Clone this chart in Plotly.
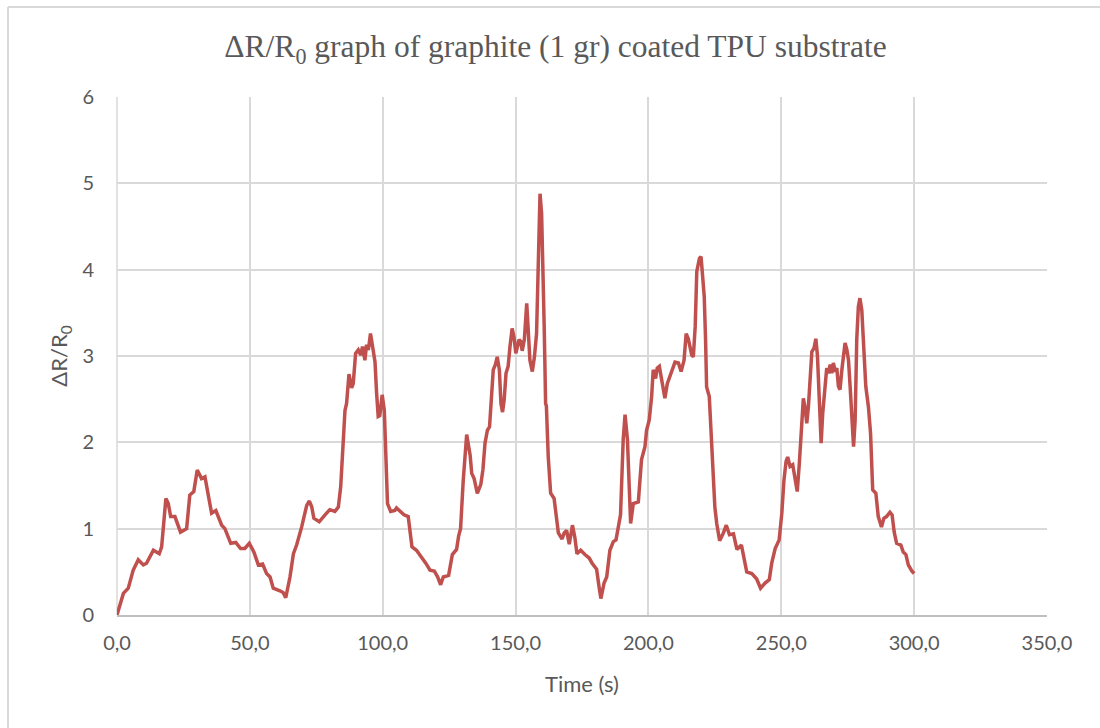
import plotly.graph_objects as go

# Time axis (s) and relative resistance change ΔR/R0
time_s = [
    0.0, 2.4, 4.25, 6.1, 8.0, 9.9, 11.1, 13.7, 15.9, 16.8, 18.4, 19.3, 20.2, 21.8, 23.9,
    26.2, 27.4, 28.9, 30.2, 31.8, 33.1, 34.3, 35.6, 37.2, 39.4, 40.6, 42.8, 44.7, 46.5,
    48.1, 49.8, 51.5, 53.2, 54.8, 56.3, 57.6, 58.8, 61.3, 62.5, 63.5, 65.1, 66.4, 67.6,
    69.5, 71.4, 72.4, 73.3, 74.1, 76.1, 78.3, 80.1, 82.0, 83.3, 84.2, 84.9, 85.8, 86.4,
    87.3, 88.3, 88.9, 89.8, 90.8, 91.7, 92.4, 93.3, 93.9, 94.6, 95.4, 96.4, 97.1, 97.7,
    98.3, 98.9, 99.8, 100.6, 101.2, 101.8, 103.0, 104.6, 105.2, 106.5, 108.0, 109.6,
    110.2, 111.0, 112.7, 114.5, 116.2, 117.8, 119.4, 120.7, 121.8, 122.8, 124.8, 126.2,
    127.8, 128.6, 129.3, 130.3, 131.6, 132.9, 133.5, 134.4, 135.6, 136.9, 137.7, 138.5,
    139.4, 140.2, 141.0, 141.6, 142.4, 143.1, 143.9, 144.5, 145.1, 145.7, 146.4, 147.2,
    147.9, 148.7, 149.4, 150.1, 151.3, 151.9, 152.5, 153.3, 154.2, 154.8, 155.4, 156.3,
    157.1, 157.9, 158.5, 159.2, 159.8, 160.4, 160.8, 161.3, 161.6, 162.3, 163.2, 164.5,
    165.2, 166.1, 167.5, 168.3, 169.2, 170.2, 171.4, 172.3, 173.1, 174.5, 176.1, 177.7,
    178.8, 180.5, 181.4, 182.1, 183.3, 184.3, 185.5, 186.8, 187.8, 188.6, 189.5, 190.5,
    191.2, 192.1, 192.7, 193.3, 194.3, 196.2, 197.4, 198.7, 199.3, 200.3, 201.2, 201.8,
    202.7, 203.3, 204.1, 205.0, 206.2, 207.1, 208.5, 210.0, 211.3, 212.3, 213.4, 214.2,
    215.0, 216.3, 216.9, 217.6, 218.2, 219.2, 219.8, 220.4, 221.0, 221.5, 221.9, 222.9,
    223.8, 225.0, 225.7, 226.8, 228.2, 229.3, 230.5, 232.0, 233.3, 235.0, 237.0, 238.9,
    240.7, 242.2, 243.9, 245.5, 246.4, 247.7, 249.2, 250.2, 251.0, 251.8, 252.4, 253.3,
    254.3, 255.2, 256.0, 256.8, 257.7, 258.3, 258.9, 259.6, 260.2, 260.8, 261.5, 262.3,
    263.0, 263.6, 264.2, 265.0, 265.6, 266.5, 267.1, 267.7, 268.4, 269.0, 269.6, 270.3,
    270.9, 271.5, 272.1, 272.8, 273.4, 274.0, 274.7, 275.3, 275.9, 276.5, 277.2, 277.8,
    278.4, 279.0, 279.6, 280.3, 281.1, 281.8, 282.8, 283.6, 284.4, 285.6, 286.5, 287.7,
    288.6, 289.6, 290.9, 291.7, 292.5, 293.4, 295.0, 295.9, 296.9, 297.8, 299.1, 300.0,
]
delta_r = [
    0.0, 0.25, 0.31, 0.52, 0.64, 0.58, 0.6, 0.75, 0.71, 0.79, 1.35, 1.29, 1.14, 1.14, 0.96,
    1.0, 1.39, 1.43, 1.68, 1.58, 1.6, 1.37, 1.18, 1.21, 1.04, 1.0, 0.83, 0.84, 0.77,
    0.77, 0.83, 0.73, 0.58, 0.59, 0.48, 0.44, 0.31, 0.28, 0.26, 0.2, 0.44, 0.71, 0.81,
    1.02, 1.27, 1.32, 1.25, 1.12, 1.08, 1.16, 1.22, 1.2, 1.25, 1.49, 1.95, 2.37, 2.45,
    2.79, 2.63, 2.68, 3.03, 3.07, 3.01, 3.11, 2.95, 3.13, 3.07, 3.26, 3.07, 2.93, 2.57,
    2.3, 2.31, 2.55, 2.37, 1.8, 1.29, 1.2, 1.21, 1.24, 1.2, 1.16, 1.14,
    0.95, 0.79, 0.75, 0.68, 0.6, 0.52, 0.51, 0.44, 0.35, 0.44, 0.46, 0.7,
    0.76, 0.92, 1.0, 1.56, 2.09, 1.85, 1.64, 1.58, 1.41, 1.51, 1.68, 1.99,
    2.14, 2.18, 2.57, 2.84, 2.9, 2.99, 2.84, 2.45, 2.35, 2.49, 2.8, 2.88,
    3.11, 3.32, 3.22, 3.03, 3.19, 3.17, 3.06, 3.19, 3.61, 3.34, 2.95, 2.82,
    2.99, 3.26, 3.88, 4.88, 4.65, 4.03, 3.3, 2.45, 2.42, 1.83, 1.41, 1.35,
    1.18, 0.95, 0.88, 0.95, 0.98, 0.82, 1.04, 0.9, 0.71, 0.75, 0.7, 0.66,
    0.6, 0.53, 0.33, 0.19, 0.37, 0.44, 0.75, 0.85, 0.87, 1.02, 1.16, 2.03,
    2.32, 2.03, 1.41, 1.06, 1.29, 1.31, 1.8, 1.95, 2.14, 2.26, 2.53, 2.84,
    2.74, 2.86, 2.88, 2.72, 2.51, 2.68, 2.8, 2.93, 2.92, 2.82, 2.95, 3.26,
    3.2, 3.01, 2.99, 3.34, 3.98, 4.13, 4.15, 3.96, 3.69, 3.19, 2.64, 2.53,
    2.03, 1.25, 1.06, 0.86, 0.95, 1.04, 0.93, 0.94, 0.76, 0.81, 0.5, 0.48,
    0.42, 0.31, 0.37, 0.41, 0.6, 0.77, 0.87, 1.18, 1.56, 1.78, 1.83, 1.72,
    1.74, 1.58, 1.43, 1.76, 2.22, 2.51, 2.41, 2.22, 2.41, 2.72, 3.05, 3.09,
    3.2, 3.01, 2.57, 1.99, 2.34, 2.72, 2.86, 2.8, 2.9, 2.8, 2.92, 2.82,
    2.86, 2.65, 2.61, 2.84, 2.99, 3.15, 3.07, 2.95, 2.65, 2.26, 1.95, 2.26,
    3.19, 3.57, 3.67, 3.53, 3.11, 2.65, 2.41, 2.1, 1.45, 1.41, 1.14, 1.02,
    1.12, 1.14, 1.19, 1.16, 0.96, 0.83, 0.81, 0.73, 0.7, 0.58, 0.51, 0.48,
]

x_ticks = [0, 50, 100, 150, 200, 250, 300, 350]
y_ticks = [0, 1, 2, 3, 4, 5, 6]

TEXT = "#595959"
GRID = "#d9d9d9"
SANS = "Lato, 'Open Sans', sans-serif"

fig = go.Figure(
    go.Scatter(
        x=time_s,
        y=delta_r,
        mode="lines",
        line=dict(color="#C0504D", width=3.5),
        hoverinfo="x+y",
    )
)

# Plot-area placement in pixels
W, H = 1100, 728
L, R, T, B = 117, 53, 97, 113
pw, ph = W - L - R, H - T - B

def px_x(p):
    return (p - L) / pw

def px_y(p):
    return (H - B - p) / ph

fig.update_layout(
    width=W,
    height=H,
    margin=dict(l=L, r=R, t=T, b=B),
    paper_bgcolor="white",
    plot_bgcolor="white",
    separators=",.",
    showlegend=False,
    title=dict(
        text="ΔR/R<sub>0</sub> graph of graphite (1 gr) coated TPU substrate",
        x=0.505,
        xref="container",
        xanchor="center",
        y=0.937,
        yref="container",
        yanchor="middle",
        font=dict(family="'Liberation Serif', 'Times New Roman', serif", size=31.5, color=TEXT),
    ),
    xaxis=dict(
        range=[0, 350],
        tickvals=x_ticks,
        tickformat=".1f",
        showgrid=True,
        gridcolor=GRID,
        gridwidth=1.5,
        zeroline=False,
        showline=True,
        linecolor="#bfbfbf",
        linewidth=2,
        mirror=False,
        ticks="",
        ticklabelstandoff=9,
        tickfont=dict(family=SANS, size=20, color=TEXT),
        title=dict(text="Time (s)", font=dict(family=SANS, size=22, color=TEXT), standoff=24),
        fixedrange=True,
    ),
    yaxis=dict(
        range=[0, 6],
        tickvals=y_ticks,
        showgrid=True,
        gridcolor=GRID,
        gridwidth=1.5,
        zeroline=False,
        showline=False,
        ticks="",
        ticklabelstandoff=22,
        tickfont=dict(family=SANS, size=20, color=TEXT),
        title=dict(text="ΔR/R<sub>0</sub>", font=dict(family=SANS, size=22, color=TEXT), standoff=8),
        fixedrange=True,
    ),
    shapes=[
        # left gridline at x = 0
        dict(type="line", xref="paper", yref="paper", x0=0, x1=0, y0=0, y1=1,
             line=dict(color=GRID, width=1.5), layer="below"),
        # outer chart frame
        dict(type="line", xref="paper", yref="paper",
             x0=px_x(8), x1=px_x(1100), y0=px_y(7), y1=px_y(7),
             line=dict(color="#d9d9d9", width=2)),
        dict(type="line", xref="paper", yref="paper",
             x0=px_x(8), x1=px_x(8), y0=px_y(7), y1=px_y(728),
             line=dict(color="#d9d9d9", width=2)),
    ],
)

fig.write_html("out.html")
